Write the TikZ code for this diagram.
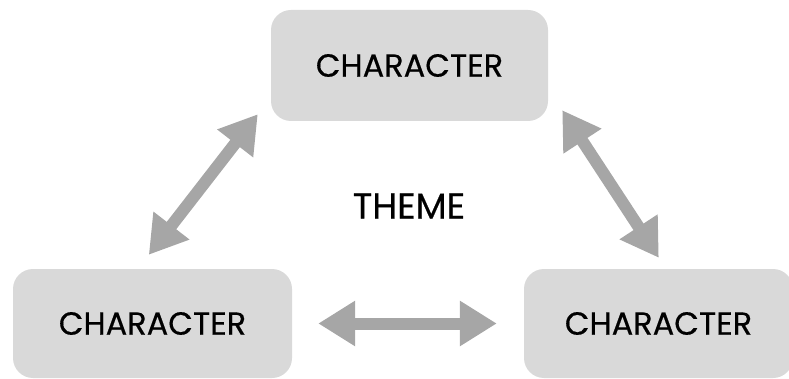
\documentclass[tikz,border=0pt]{standalone}
\usepackage{fontspec}
\setmainfont{Poppins}[FakeBold=0.4]
\usetikzlibrary{arrows.meta}
\definecolor{boxgray}{HTML}{D9D9D9}
\definecolor{arrowgray}{HTML}{A6A6A6}
\tikzset{
  charbox/.style={fill=boxgray,rounded corners=20pt,minimum width=278pt,inner sep=0pt,font=\fontsize{32}{38}\selectfont},
  twoway/.style={draw=arrowgray,line width=12pt,{Triangle[width=43pt,length=37pt]}-{Triangle[width=43pt,length=37pt]}}
}
\begin{document}
\begin{tikzpicture}[x=1pt,y=-1pt]
        \useasboundingbox(0,0)rectangle(789,379);
        \node[charbox,minimum width=277pt,minimum height=111pt](top)at(409.5,65.5){CHARACTER};
        \node[charbox,minimum width=279pt,minimum height=109pt](left)at(152.5,323.5){CHARACTER};
        \node[charbox,minimum width=269pt,minimum height=109pt](right)at(658.5,323.5){CHARACTER};
        \node[font=\fontsize{36}{42}\selectfont](theme)at(409,206){THEME};
        \draw[twoway]([shift={(-13,-7)}]top.south west)--([shift={(136,-14)}]left.north west);
        \draw[twoway]([shift={(14,-11)}]top.south east)--([shift={(135,-11)}]right.north west);
        \draw[twoway]([xshift=26pt]left.east)--([xshift=-27pt]right.west);

    \end{tikzpicture}
\end{document}
